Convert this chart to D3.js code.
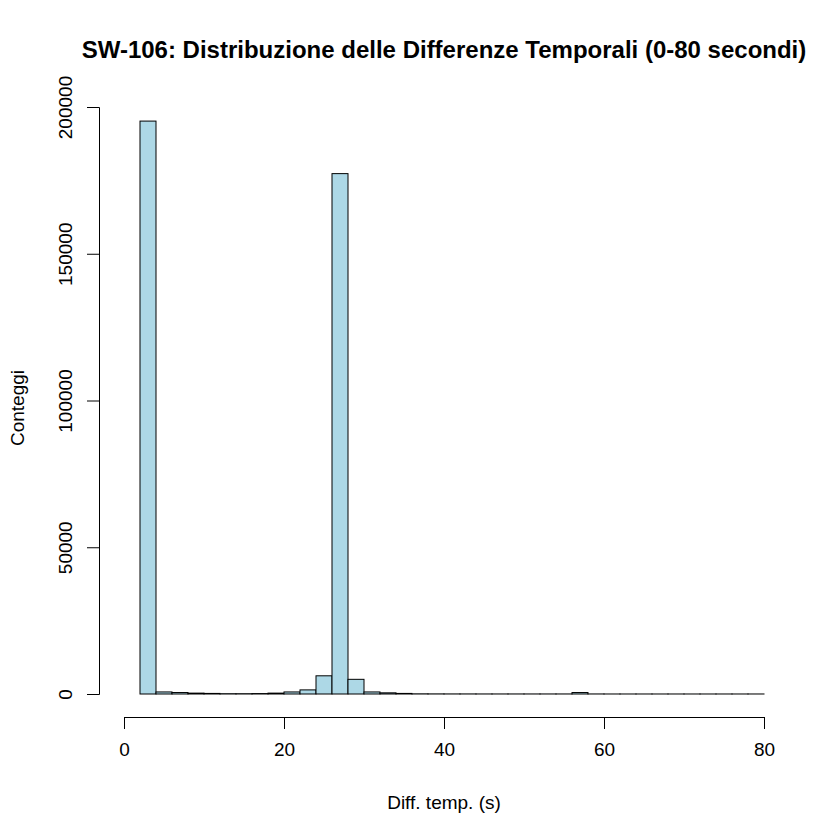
<!DOCTYPE html>
<html><head><meta charset="utf-8">
<script src="https://cdn.jsdelivr.net/npm/d3@7"></script>
<style>body{margin:0;background:#fff;} text{font-family:"Liberation Sans",Arial,sans-serif;}</style>
</head><body>
<svg id="c" width="840" height="840"></svg>
<script>
const binStarts = [2,4,6,8,10,12,14,16,18,20,22,24,26,28,30,32,34,36,38,40,42,44,46,48,50,52,54,56,58,60,62,64,66,68,70,72,74,76,78];
const counts =    [195200,700,500,300,200,100,100,150,300,700,1400,6200,177300,5000,700,400,200,60,40,30,30,20,20,20,20,20,20,500,20,10,10,10,10,10,10,10,10,10,10];
const binWidth = 2;
const xTicks = [0,20,40,60,80];
const yTicks = [0,50000,100000,150000,200000];
const title = "SW-106: Distribuzione delle Differenze Temporali (0-80 secondi)";
const xLabel = "Diff. temp. (s)";
const yLabel = "Conteggi";

const svg = d3.select("#c");
const x = d3.scaleLinear().domain([0,80]).range([124,764]);
const y = d3.scaleLinear().domain([0,200000]).range([694,107]);

svg.append("g").selectAll("rect").data(binStarts).join("rect")
  .attr("x", d => x(d)).attr("width", d => x(d+binWidth)-x(d))
  .attr("y", (d,i) => y(counts[i])).attr("height", (d,i) => y(0)-y(counts[i]))
  .attr("fill", "#add8e6").attr("stroke", "#000").attr("stroke-width", 1);

const xa = svg.append("g").attr("transform","translate(0,717)")
  .call(d3.axisBottom(x).tickValues(xTicks).tickSize(12).tickPadding(14).tickFormat(d3.format("d")));
xa.selectAll("text").attr("font-size", 19).attr("fill","#000").style("font-family","Liberation Sans, Arial, sans-serif");
xa.selectAll("line,path").attr("stroke","#000");

const ya = svg.append("g").attr("transform","translate(99,0)")
  .call(d3.axisLeft(y).tickValues(yTicks).tickSize(12).tickFormat(d3.format("d")));
ya.selectAll("text").attr("font-size", 19).attr("fill","#000").style("font-family","Liberation Sans, Arial, sans-serif")
  .attr("transform", "rotate(-90)")
  .attr("x", 0).attr("y", -27).attr("dy", 0).attr("text-anchor","middle");
ya.selectAll("line,path").attr("stroke","#000");

svg.append("text").attr("x", 444).attr("y", 58).attr("text-anchor","middle")
  .attr("font-size", 24).attr("font-weight","bold").text(title);
svg.append("text").attr("x", 444).attr("y", 809).attr("text-anchor","middle")
  .attr("font-size", 19).text(xLabel);
svg.append("text").attr("transform","translate(24,408) rotate(-90)").attr("text-anchor","middle")
  .attr("font-size", 19).text(yLabel);
</script>
</body></html>
